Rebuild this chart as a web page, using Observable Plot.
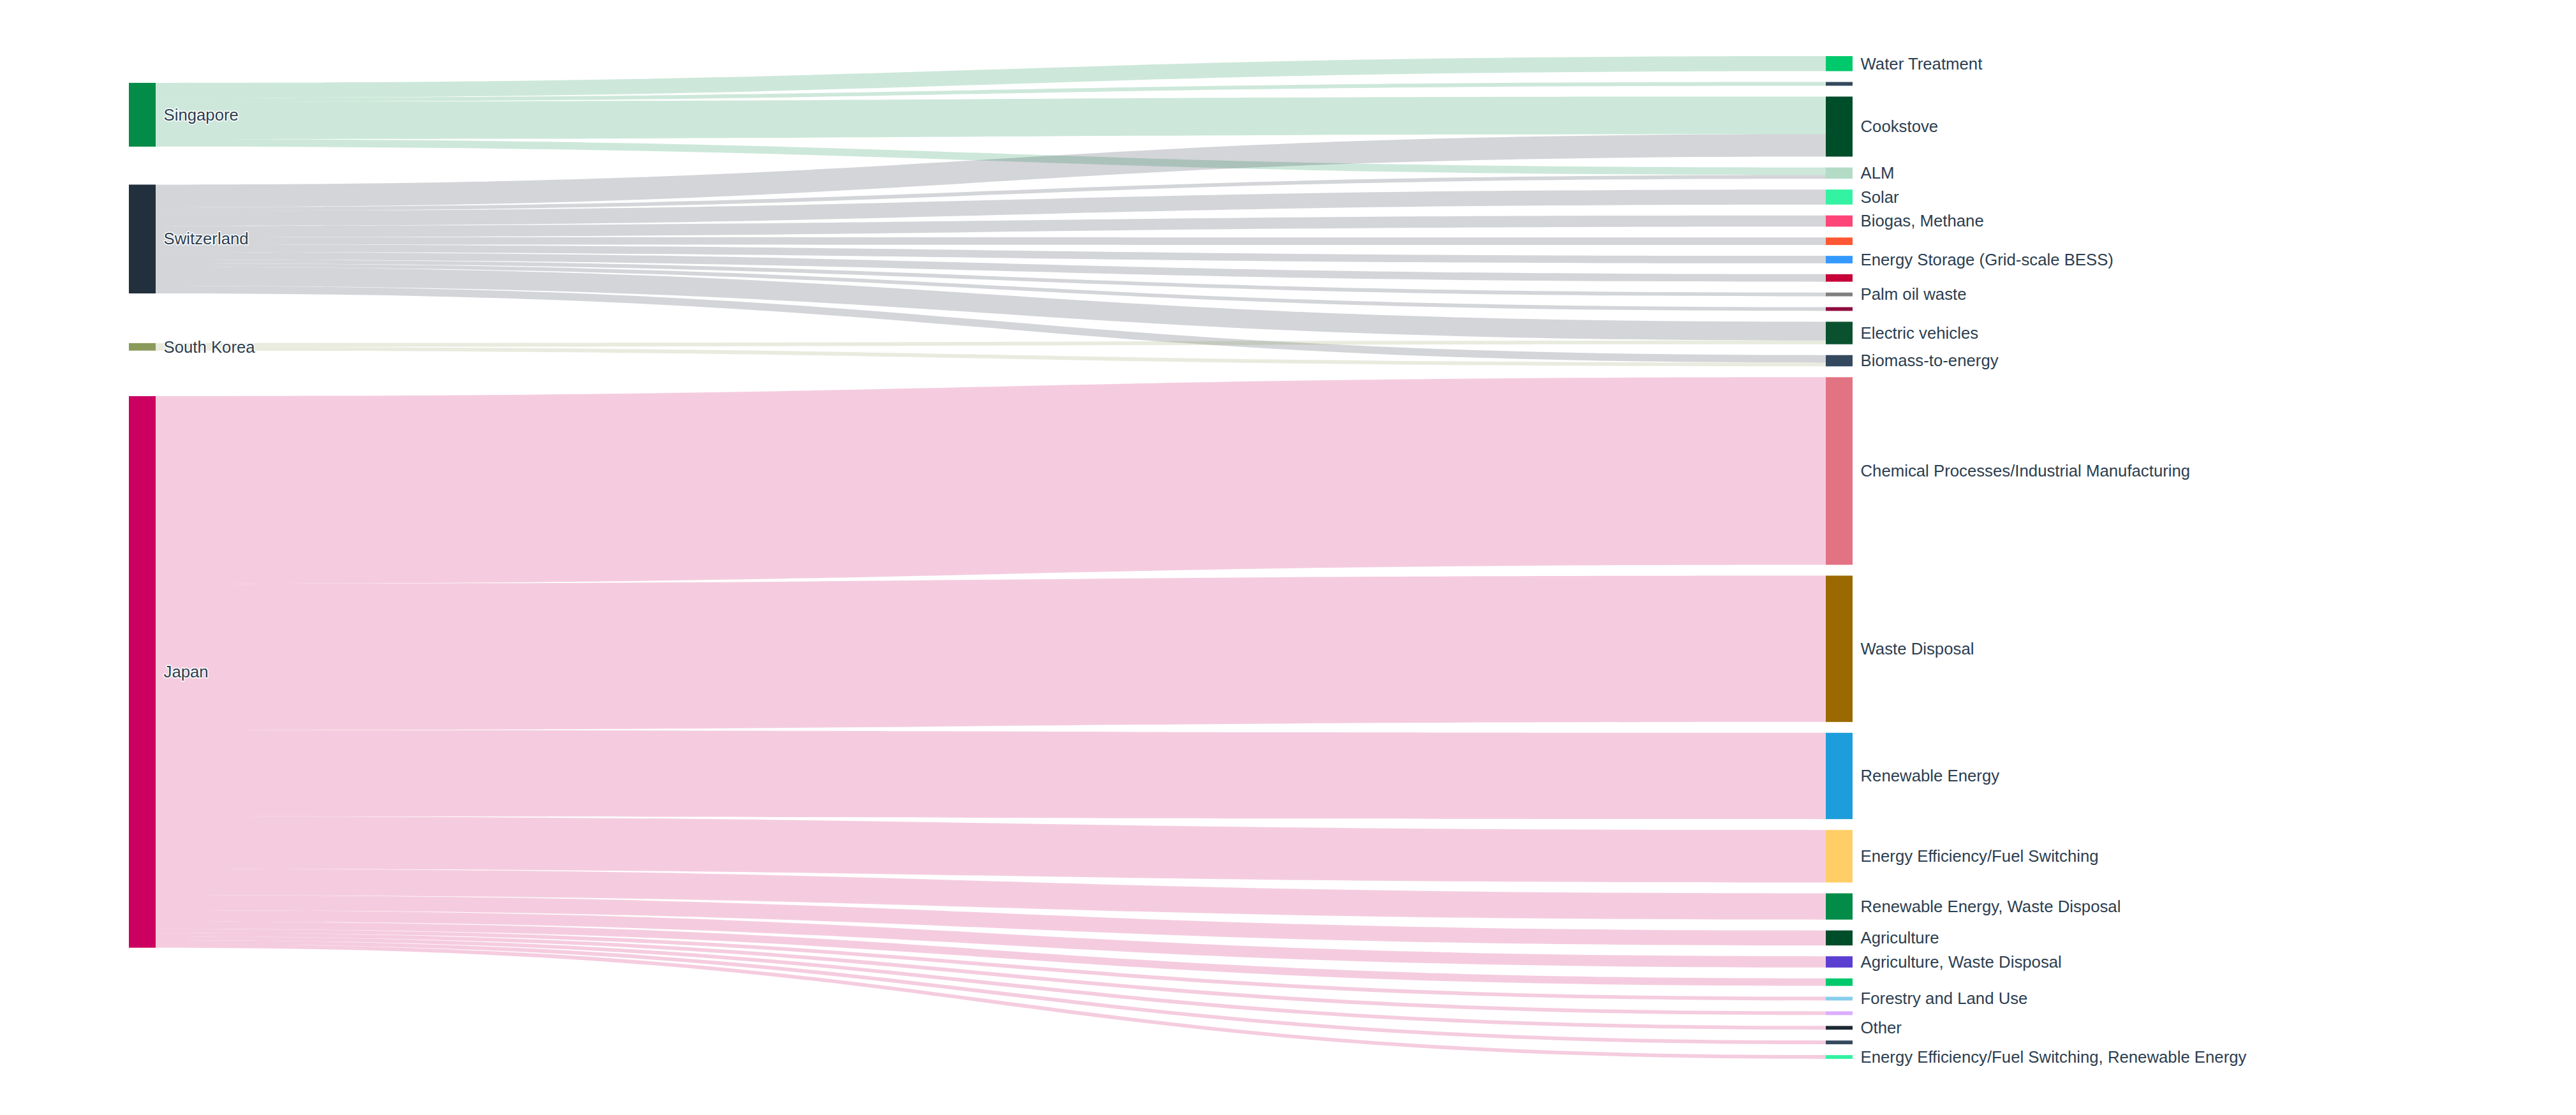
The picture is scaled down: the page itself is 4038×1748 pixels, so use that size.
<!DOCTYPE html>
<html>
<head>
<meta charset="utf-8">
<script src="https://cdn.jsdelivr.net/npm/d3@7"></script>
<script src="https://cdn.jsdelivr.net/npm/@observablehq/plot@0.6"></script>
<style>
  html, body { margin: 0; padding: 0; background: #fff; }
  #chart svg { display: block; }
</style>
</head>
<body>
<div id="chart"></div>
<script>
// ---------- DATA ----------
const sources = ["Singapore", "Switzerland", "South Korea", "Japan"];
const sourceColors = ["#038c47", "#222f3d", "#8a9a5b", "#cc0060"];

const targets = [
  "Water Treatment", "", "Cookstove", "ALM", "Solar", "Biogas, Methane", "",
  "Energy Storage (Grid-scale BESS)", "", "Palm oil waste", "", "Electric vehicles",
  "Biomass-to-energy", "Chemical Processes/Industrial Manufacturing", "Waste Disposal",
  "Renewable Energy", "Energy Efficiency/Fuel Switching", "Renewable Energy, Waste Disposal",
  "Agriculture", "Agriculture, Waste Disposal", "", "Forestry and Land Use", "", "Other", "",
  "Energy Efficiency/Fuel Switching, Renewable Energy"
];
const targetColors = [
  "#00c96b", "#34495e", "#004d2a", "#b3dbc6", "#33f2a2", "#fe4579", "#ff5733",
  "#3399ff", "#c70039", "#808080", "#900c3f", "#0a5130",
  "#34495e", "#e27383", "#9a6a00",
  "#1d9ddb", "#ffce67", "#038c47",
  "#004d2a", "#5b3fd1", "#00c96b", "#87ceeb", "#dcadff", "#1c2833", "#34495e",
  "#33f2a2"
];

// links: source index, target index, value (number of projects)
const linkSource = [
  0, 0, 0, 0,
  1, 1, 1, 1, 1, 1, 1, 1, 1, 1, 1,
  2, 2,
  3, 3, 3, 3, 3, 3, 3, 3, 3, 3, 3, 3, 3
];
const linkTarget = [
  0, 1, 2, 3,
  2, 3, 4, 5, 6, 7, 8, 9, 10, 11, 12,
  11, 12,
  13, 14, 15, 16, 17, 18, 19, 20, 21, 22, 23, 24, 25
];
const linkValue = [
  4, 1, 10, 2,
  6, 1, 4, 3, 2, 2, 2, 1, 1, 5, 2,
  1, 1,
  50, 39, 23, 14, 7, 4, 3, 2, 1, 1, 1, 1, 1
];

// ---------- LAYOUT (style constants) ----------
const W = 4038, H = 1748;
const M = {top: 88, bottom: 88, left: 202, right: 1134};
const NODE_PX = 42, PAD_PX = 17;
const plotH = H - M.top - M.bottom;
const plotW = W - M.left - M.right;

const links = linkValue.map((v, i) => ({id: i, s: linkSource[i], t: linkTarget[i], v}));
const tVal = targets.map((_, j) => d3.sum(links.filter(l => l.t === j), l => l.v));
const sVal = sources.map((_, k) => d3.sum(links.filter(l => l.s === k), l => l.v));
const total = d3.sum(tVal);
const nT = targets.length;
const D = total / (1 - (nT - 1) * PAD_PX / plotH);
const pad = PAD_PX * D / plotH;
const xw = NODE_PX / plotW;

// right column: stacked
let acc = 0;
const tNodes = targets.map((name, j) => {
  const y0 = acc; acc += tVal[j] + pad;
  return {name, y0, y1: y0 + tVal[j], x1: 1 - xw, x2: 1, color: targetColors[j]};
});
tNodes.forEach((node, j) => {
  let y = node.y0;
  links.filter(l => l.t === j).sort((a, b) => a.s - b.s).forEach(l => { l.ty0 = y; y += l.v; l.ty1 = y; });
});

// left column: centre each node on the value-weighted mean of its target node centres (sankey relaxation)
const sNodes = sources.map((name, k) => {
  const ls = links.filter(l => l.s === k);
  const c = d3.sum(ls, l => l.v * (tNodes[l.t].y0 + tNodes[l.t].y1) / 2) / sVal[k];
  return {name, y0: c - sVal[k] / 2, y1: c + sVal[k] / 2, x1: 0, x2: xw, color: sourceColors[k]};
});
// resolve collisions
{
  const order = sNodes.slice().sort((a, b) => a.y0 - b.y0);
  let y = 0;
  for (const nd of order) { const dy = y - nd.y0; if (dy > 0) { nd.y0 += dy; nd.y1 += dy; } y = nd.y1 + pad; }
  let yb = D;
  for (let i = order.length - 1; i >= 0; --i) { const nd = order[i]; const dy = nd.y1 - yb; if (dy > 0) { nd.y0 -= dy; nd.y1 -= dy; } yb = nd.y0 - pad; }
}
sNodes.forEach((node, k) => {
  let y = node.y0;
  links.filter(l => l.s === k).sort((a, b) => tNodes[a.t].y0 - tNodes[b.t].y0).forEach(l => { l.sy0 = y; y += l.v; l.sy1 = y; });
});

const linkRows = links.flatMap(l => [
  {id: l.id, x: xw, y0: l.sy0, y1: l.sy1, color: sourceColors[l.s]},
  {id: l.id, x: 1 - xw, y0: l.ty0, y1: l.ty1, color: sourceColors[l.s]}
]);
const nodes = [...sNodes, ...tNodes];

const chart = Plot.plot({
  width: W,
  height: H,
  marginTop: M.top,
  marginBottom: M.bottom,
  marginLeft: M.left,
  marginRight: M.right,
  style: {fontFamily: "'Liberation Sans', Arial, sans-serif", background: "#fff"},
  x: {domain: [0, 1], axis: null},
  y: {domain: [0, D], reverse: true, axis: null},
  color: {type: "identity"},
  marks: [
    Plot.areaY(linkRows, {x: "x", y1: "y0", y2: "y1", z: "id", fill: "color", fillOpacity: 0.2, curve: "bump-x"}),
    Plot.rect(nodes, {x1: "x1", x2: "x2", y1: "y0", y2: "y1", fill: "color"}),
    Plot.text(nodes.filter(d => d.name), {
      x: "x2", y: d => (d.y0 + d.y1) / 2, text: "name",
      dx: 12, textAnchor: "start", fontSize: 25.75,
      fill: "#2c3e50", stroke: "white", strokeWidth: 3
    })
  ]
});
document.getElementById("chart").appendChild(chart);
</script>
</body>
</html>
